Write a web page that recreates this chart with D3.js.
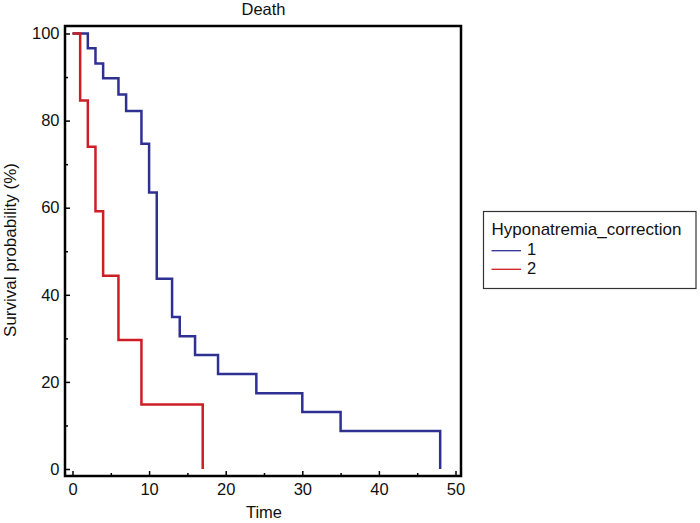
<!DOCTYPE html>
<html>
<head>
<meta charset="utf-8">
<script src="https://cdn.jsdelivr.net/npm/d3@7"></script>
<style>
  html, body { margin: 0; padding: 0; background: #fff; }
  svg { display: block; }
  text { font-family: "Liberation Sans", Arial, sans-serif; fill: #111; }
</style>
</head>
<body>
<svg id="chart" width="700" height="523"></svg>
<script>
// ---- data ----
const title = "Death";
const xLabel = "Time";
const yLabel = "Survival probability (%)";
const legendTitle = "Hyponatremia_correction";
const groupNames = ["1", "2"];
const groupColors = ["#2e3192", "#cc1f24"];

const timesG1 = [0, 2, 3, 4, 6, 7, 9, 10, 11, 13, 14, 16, 19, 24, 30, 35, 48];
const survG1  = [100, 96.6, 93.1, 89.7, 86.0, 82.2, 74.7, 63.5, 43.7, 34.9, 30.5, 26.2, 21.8, 17.4, 13.1, 8.7, 0];

const timesG2 = [0, 1, 2, 3, 4, 6, 9, 17];
const survG2  = [100, 84.6, 74.0, 59.2, 44.4, 29.6, 14.8, 0];

const xTicks = [0, 10, 20, 30, 40, 50];
const xMinorTicks = [5, 15, 25, 35, 45];
const yTicks = [0, 20, 40, 60, 80, 100];
const yMinorTicks = [10, 30, 50, 70, 90];

// ---- layout ----
const FS = 16.5;
const svg = d3.select("#chart");
const frame = { left: 65, top: 26, right: 461, bottom: 476 };

const x = d3.scaleLinear().domain([0, 50]).range([72.5, 455.5]);
const y = d3.scaleLinear().domain([0, 100]).range([469, 33.5]);

// frame
svg.append("rect")
  .attr("x", frame.left).attr("y", frame.top)
  .attr("width", frame.right - frame.left)
  .attr("height", frame.bottom - frame.top)
  .attr("fill", "none").attr("stroke", "#000").attr("stroke-width", 2.5);

// axes (ticks pointing inward)
const xAxis = svg.append("g").attr("transform", `translate(0,${frame.bottom})`)
  .call(d3.axisBottom(x).tickValues(xTicks).tickSize(-5).tickPadding(7).tickFormat(d3.format("d")));
const xMinor = svg.append("g").attr("transform", `translate(0,${frame.bottom})`)
  .call(d3.axisBottom(x).tickValues(xMinorTicks).tickSize(-3).tickFormat(""));
const yAxis = svg.append("g").attr("transform", `translate(${frame.left},0)`)
  .call(d3.axisLeft(y).tickValues(yTicks).tickSize(-5).tickPadding(5.5).tickFormat(d3.format("d")));
const yMinor = svg.append("g").attr("transform", `translate(${frame.left},0)`)
  .call(d3.axisLeft(y).tickValues(yMinorTicks).tickSize(-3).tickFormat(""));

[xAxis, xMinor, yAxis, yMinor].forEach(g => {
  g.select(".domain").remove();
  g.selectAll(".tick line").attr("stroke", "#000").attr("stroke-width", 1.5);
  g.selectAll(".tick text").attr("font-size", FS).attr("fill", "#111")
    .attr("font-family", "Liberation Sans, Arial, sans-serif");
});

// curves
const line = d3.line()
  .x(d => x(d[0]))
  .y(d => y(d[1]))
  .curve(d3.curveStepAfter);

const series = [
  { name: groupNames[0], color: groupColors[0], pts: d3.zip(timesG1, survG1) },
  { name: groupNames[1], color: groupColors[1], pts: d3.zip(timesG2, survG2) }
];

svg.selectAll("path.km").data(series).enter().append("path")
  .attr("class", "km")
  .attr("d", d => line(d.pts))
  .attr("fill", "none")
  .attr("stroke", d => d.color)
  .attr("stroke-width", 2.5)
  .attr("stroke-linejoin", "miter");

// title
svg.append("text").attr("x", 263.5).attr("y", 15).attr("text-anchor", "middle")
  .attr("font-size", FS).text(title);

// x label
svg.append("text").attr("x", 264).attr("y", 518).attr("text-anchor", "middle")
  .attr("font-size", FS).text(xLabel);

// y label
svg.append("text").attr("transform", "translate(15.5,250) rotate(-90)")
  .attr("text-anchor", "middle").attr("font-size", 17).text(yLabel);

// legend
const lg = svg.append("g");
lg.append("rect").attr("x", 483.5).attr("y", 211.5).attr("width", 212.5).attr("height", 77)
  .attr("fill", "#fff").attr("stroke", "#333").attr("stroke-width", 1.2);
lg.append("text").attr("x", 491.5).attr("y", 235).attr("font-size", 17).text(legendTitle);
series.forEach((s, i) => {
  const yy = 250.7 + i * 18.6;
  lg.append("line").attr("x1", 491.5).attr("x2", 521).attr("y1", yy).attr("y2", yy)
    .attr("stroke", s.color).attr("stroke-width", 1.3);
  lg.append("text").attr("x", 527).attr("y", yy + 4.5).attr("font-size", FS).text(s.name);
});
</script>
</body>
</html>
